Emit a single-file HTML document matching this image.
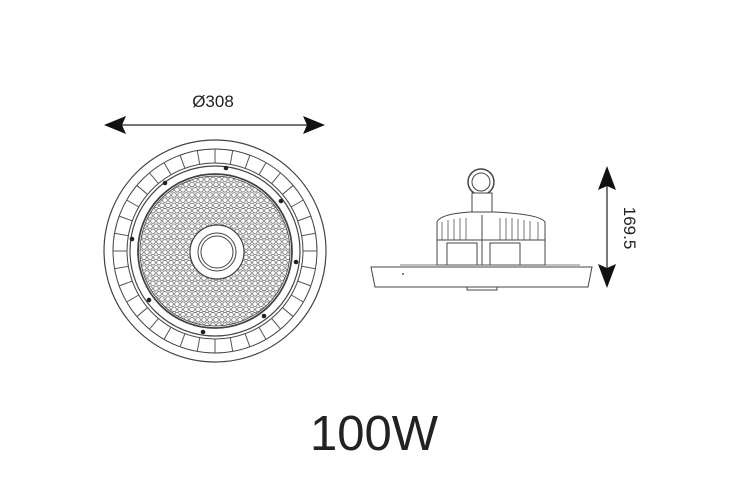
<!DOCTYPE html>
<html><head><meta charset="utf-8"><style>html,body{margin:0;padding:0;background:#fff}svg{display:block}</style></head>
<body>
<svg width="750" height="500" viewBox="0 0 750 500" xmlns="http://www.w3.org/2000/svg">
<defs>
<pattern id="led" width="6" height="10.4" patternUnits="userSpaceOnUse">
<circle cx="3" cy="2.6" r="2.3" fill="none" stroke="#444" stroke-width="0.7"/>
<circle cx="0" cy="7.8" r="2.3" fill="none" stroke="#444" stroke-width="0.7"/>
<circle cx="6" cy="7.8" r="2.3" fill="none" stroke="#444" stroke-width="0.7"/>
</pattern>
</defs>
<text x="213" y="107" font-family="Liberation Sans, sans-serif" font-size="17" text-anchor="middle" fill="#222">Ø308</text>
<line x1="115" y1="125" x2="314" y2="125" stroke="#222" stroke-width="1.2"/>
<polygon points="104,125 126,116 122,125 126,134" fill="#111"/>
<polygon points="325,125 303,116 307,125 303,134" fill="#111"/>
<g fill="none" stroke="#444">
<circle cx="215" cy="251" r="111" stroke-width="1.2"/>
<circle cx="215" cy="251" r="102" stroke-width="1"/>
<circle cx="215" cy="251" r="88" stroke-width="1"/>
<circle cx="215" cy="251" r="85" stroke-width="1.2"/>
<circle cx="215" cy="251" r="77" stroke-width="1.8"/>
<circle cx="215" cy="251" r="75" fill="url(#led)" stroke-width="0.8"/>
</g>
<g stroke="#555" stroke-width="1">
<line x1="215" y1="149" x2="215" y2="163" transform="rotate(0 215 251)"/>
<line x1="215" y1="149" x2="215" y2="163" transform="rotate(10 215 251)"/>
<line x1="215" y1="149" x2="215" y2="163" transform="rotate(20 215 251)"/>
<line x1="215" y1="149" x2="215" y2="163" transform="rotate(30 215 251)"/>
<line x1="215" y1="149" x2="215" y2="163" transform="rotate(40 215 251)"/>
<line x1="215" y1="149" x2="215" y2="163" transform="rotate(50 215 251)"/>
<line x1="215" y1="149" x2="215" y2="163" transform="rotate(60 215 251)"/>
<line x1="215" y1="149" x2="215" y2="163" transform="rotate(70 215 251)"/>
<line x1="215" y1="149" x2="215" y2="163" transform="rotate(80 215 251)"/>
<line x1="215" y1="149" x2="215" y2="163" transform="rotate(90 215 251)"/>
<line x1="215" y1="149" x2="215" y2="163" transform="rotate(100 215 251)"/>
<line x1="215" y1="149" x2="215" y2="163" transform="rotate(110 215 251)"/>
<line x1="215" y1="149" x2="215" y2="163" transform="rotate(120 215 251)"/>
<line x1="215" y1="149" x2="215" y2="163" transform="rotate(130 215 251)"/>
<line x1="215" y1="149" x2="215" y2="163" transform="rotate(140 215 251)"/>
<line x1="215" y1="149" x2="215" y2="163" transform="rotate(150 215 251)"/>
<line x1="215" y1="149" x2="215" y2="163" transform="rotate(160 215 251)"/>
<line x1="215" y1="149" x2="215" y2="163" transform="rotate(170 215 251)"/>
<line x1="215" y1="149" x2="215" y2="163" transform="rotate(180 215 251)"/>
<line x1="215" y1="149" x2="215" y2="163" transform="rotate(190 215 251)"/>
<line x1="215" y1="149" x2="215" y2="163" transform="rotate(200 215 251)"/>
<line x1="215" y1="149" x2="215" y2="163" transform="rotate(210 215 251)"/>
<line x1="215" y1="149" x2="215" y2="163" transform="rotate(220 215 251)"/>
<line x1="215" y1="149" x2="215" y2="163" transform="rotate(230 215 251)"/>
<line x1="215" y1="149" x2="215" y2="163" transform="rotate(240 215 251)"/>
<line x1="215" y1="149" x2="215" y2="163" transform="rotate(250 215 251)"/>
<line x1="215" y1="149" x2="215" y2="163" transform="rotate(260 215 251)"/>
<line x1="215" y1="149" x2="215" y2="163" transform="rotate(270 215 251)"/>
<line x1="215" y1="149" x2="215" y2="163" transform="rotate(280 215 251)"/>
<line x1="215" y1="149" x2="215" y2="163" transform="rotate(290 215 251)"/>
<line x1="215" y1="149" x2="215" y2="163" transform="rotate(300 215 251)"/>
<line x1="215" y1="149" x2="215" y2="163" transform="rotate(310 215 251)"/>
<line x1="215" y1="149" x2="215" y2="163" transform="rotate(320 215 251)"/>
<line x1="215" y1="149" x2="215" y2="163" transform="rotate(330 215 251)"/>
<line x1="215" y1="149" x2="215" y2="163" transform="rotate(340 215 251)"/>
<line x1="215" y1="149" x2="215" y2="163" transform="rotate(350 215 251)"/>
</g>
<circle cx="217" cy="252" r="27" fill="#fff" stroke="#444" stroke-width="1.2"/>
<circle cx="217" cy="252" r="19" fill="none" stroke="#444" stroke-width="1"/>
<circle cx="217" cy="252" r="16" fill="none" stroke="#444" stroke-width="1"/>
<g fill="#222">
<circle cx="226" cy="168" r="2.3"/><circle cx="165" cy="183" r="2.3"/><circle cx="281" cy="201" r="2.3"/>
<circle cx="132" cy="239" r="2.3"/><circle cx="296" cy="262" r="2.3"/><circle cx="149" cy="300" r="2.3"/>
<circle cx="264" cy="316" r="2.3"/><circle cx="203" cy="332" r="2.3"/>
</g>
<g fill="#fff" stroke="#444" stroke-width="1">
<circle cx="481" cy="182" r="13" stroke-width="1.5"/>
<circle cx="481" cy="182" r="9"/>
<rect x="472" y="193" width="20" height="22"/>
<path d="M437,265 L437,222 Q440,214 470,212 L494,212 Q540,214 545,222 L545,265 Z"/>
<rect x="447" y="243" width="30" height="22"/>
<rect x="490" y="243" width="30" height="22"/>
<line x1="437" y1="240" x2="545" y2="240"/>
<line x1="482" y1="215" x2="482" y2="265"/>
<path d="M371,267 L592,267 L588,287 L375,287 Z"/>
<rect x="467" y="287" width="30" height="3"/>
</g>
<g stroke="#555" stroke-width="0.8">
<line x1="442" y1="222" x2="442" y2="240"/><line x1="448" y1="220" x2="448" y2="240"/><line x1="454" y1="219" x2="454" y2="240"/><line x1="460" y1="218" x2="460" y2="240"/><line x1="466" y1="218" x2="466" y2="240"/>
<line x1="500" y1="218" x2="500" y2="240"/><line x1="506" y1="218" x2="506" y2="240"/><line x1="512" y1="218" x2="512" y2="240"/><line x1="518" y1="219" x2="518" y2="240"/><line x1="524" y1="220" x2="524" y2="240"/><line x1="530" y1="221" x2="530" y2="240"/><line x1="538" y1="222" x2="538" y2="240"/>
<line x1="400" y1="265" x2="580" y2="265"/>
</g>
<circle cx="403" cy="274" r="1" fill="#555"/>
<line x1="607" y1="178" x2="607" y2="278" stroke="#222" stroke-width="1.2"/>
<polygon points="607,166 598,190 607,186 616,190" fill="#111"/>
<polygon points="607,288 598,264 607,268 616,264" fill="#111"/>
<text transform="translate(624,228) rotate(90)" font-family="Liberation Sans, sans-serif" font-size="17" text-anchor="middle" fill="#222">169.5</text>
<text x="374" y="450" font-family="Liberation Sans, sans-serif" font-size="49" text-anchor="middle" fill="#222">100W</text>
</svg>
</body></html>
